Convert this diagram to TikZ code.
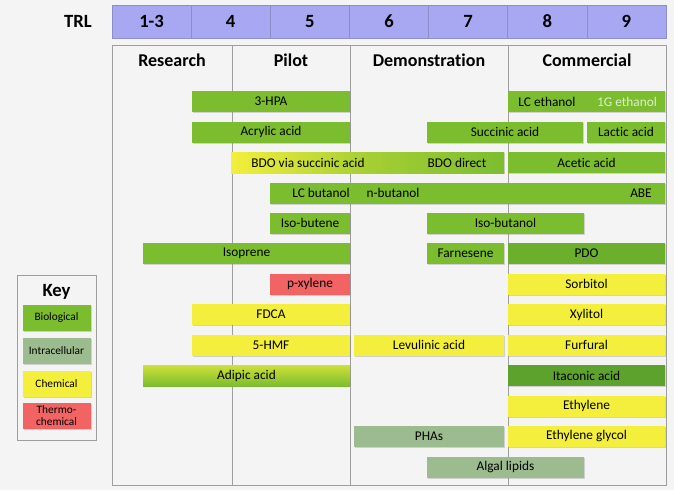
\documentclass[tikz,border=0pt]{standalone}
\usepackage{fontspec}
\setmainfont{Carlito}[Ligatures=NoCommon]
\usetikzlibrary{shadows}
\definecolor{bio}{HTML}{7CBD2F}
\definecolor{biodark}{HTML}{6BAF2C}
\definecolor{itac}{HTML}{5EA22E}
\definecolor{intra}{HTML}{9CBB8E}
\definecolor{chem}{HTML}{F3EF3C}
\definecolor{thermo}{HTML}{F26464}
\definecolor{trl}{HTML}{A7A7F2}
\definecolor{trledge}{HTML}{8D8DC9}
\definecolor{frame}{HTML}{9E9E9E}
\definecolor{bg}{HTML}{F4F4F4}

\begin{document}
\begin{tikzpicture}[x=0.75pt, y=-0.75pt,
    trlcell/.style={draw=trledge, fill=trl, minimum width=59.36pt, minimum height=24.75pt, inner sep=0pt, font=\fontsize{14}{16}\selectfont\bfseries},
    phase/.style={font=\fontsize{13.5}{16}\selectfont\bfseries},
    bar/.style 2 args={fill=#1, minimum width=#2*0.75pt, minimum height=15.75pt, inner sep=0pt, font=\fontsize{10}{12}\selectfont,
        drop shadow={opacity=0.3, shadow xshift=0.8pt, shadow yshift=-0.8pt}},
    lbl/.style={inner sep=0pt, font=\fontsize{10}{12}\selectfont},
    keyitem/.style={fill=#1, minimum width=51pt, minimum height=19.5pt, inner sep=0pt, align=center, font=\fontsize{8.5}{9}\selectfont,
        drop shadow={opacity=0.3, shadow xshift=0.8pt, shadow yshift=-0.8pt}},
    divider/.style={draw=frame, line width=0.75pt},
]
\useasboundingbox[fill=bg] (0,0) rectangle (674,490);

% --- TRL scale ---
\node[font=\fontsize{14}{16}\selectfont\bfseries] (trllabel) at (78,21) {TRL};
\foreach \t [count=\i] in {1-3,4,5,6,7,8,9}
    \node[trlcell] (trl\i) at ({112+79.14*(\i-0.5)}, 21.5) {\t};

% --- Chart frame and phases ---
\draw[divider] (112,45) rectangle (666,485);
\foreach \x in {232,350,508}
    \draw[divider] (\x,45) -- (\x,485);
\node[phase] (research) at (172,60) {Research};
\node[phase] (pilot) at (291,60) {Pilot};
\node[phase] (demo) at (429,60) {Demonstration};
\node[phase] (commercial) at (587,60) {Commercial};

% --- Row 1 ---
\node[bar={bio}{158}] (hpa) at (271,101.5) {3-HPA};
\node[bar={bio}{157}] (ethanol) at (586.5,101.5) {};
\node[lbl] (lcethanol) at (547,101.5) {LC ethanol};
\node[lbl, text=white!75!bio] (gethanol) at (627,101.5) {1G ethanol};

% --- Row 2 ---
\node[bar={bio}{158}] (acrylic) at (271,132) {Acrylic acid};
\node[bar={bio}{156}] (succinic) at (505,132) {Succinic acid};
\node[bar={bio}{78}] (lactic) at (626,132) {Lactic acid};

% --- Row 3 ---
\node[bar={bio}{273}, left color=chem, right color=bio, middle color=bio!65!chem] (bdo) at (367.5,162.5) {};
\node[lbl] (bdosucc) at (308,162.5) {BDO via succinic acid};
\node[lbl] (bdodirect) at (457,162.5) {BDO direct};
\node[bar={bio}{157}] (acetic) at (586.5,162.5) {Acetic acid};

% --- Row 4 ---
\node[bar={bio}{395}] (butanol) at (467.5,193) {};
\node[lbl] (lcbutanol) at (321,193) {LC butanol};
\node[lbl] (nbutanol) at (393,193) {n-butanol};
\node[lbl] (abe) at (641,193) {ABE};

% --- Row 5 ---
\node[bar={bio}{80}] (isobutene) at (310,223) {Iso-butene};
\node[bar={bio}{157}] (isobutanol) at (505.5,223) {Iso-butanol};

% --- Row 6 ---
\node[bar={bio}{207}] (isoprene) at (246.5,253.5) {Isoprene};
\node[bar={bio}{77}] (farnesene) at (465.5,253.5) {Farnesene};
\node[bar={biodark}{157}] (pdo) at (586.5,253.5) {PDO};

% --- Row 7 ---
\node[bar={thermo}{80}] (pxylene) at (310,284) {p-xylene};
\node[bar={chem}{157}] (sorbitol) at (586.5,284) {Sorbitol};

% --- Row 8 ---
\node[bar={chem}{158}] (fdca) at (271,314.5) {FDCA};
\node[bar={chem}{157}] (xylitol) at (586.5,314.5) {Xylitol};

% --- Row 9 ---
\node[bar={chem}{158}] (hmf) at (271,345) {5-HMF};
\node[bar={chem}{150}] (levulinic) at (429,345) {Levulinic acid};
\node[bar={chem}{157}] (furfural) at (586.5,345) {Furfural};

% --- Row 10 ---
\node[bar={bio}{207}, top color=chem!70!bio, bottom color=bio] (adipic) at (246.5,375.5) {Adipic acid};
\node[bar={itac}{157}] (itaconic) at (586.5,375.5) {Itaconic acid};

% --- Rows 11-13 ---
\node[bar={chem}{157}] (ethylene) at (586.5,406) {Ethylene};
\node[bar={intra}{150}] (phas) at (429,436.5) {PHAs};
\node[bar={chem}{157}] (glycol) at (586.5,436.5) {Ethylene glycol};
\node[bar={intra}{157}] (algal) at (505.5,467) {Algal lipids};

% --- Key ---
\draw[divider] (17,275) rectangle (96,440);
\node[font=\fontsize{14}{16}\selectfont\bfseries] (keytitle) at (56.5,292) {Key};
\node[keyitem=bio] (kbio) at (56.5,318) {Biological};
\node[keyitem=intra] (kintra) at (56.5,351) {Intracellular};
\node[keyitem=chem] (kchem) at (56.5,384) {Chemical};
\node[keyitem=thermo] (kthermo) at (56.5,416) {Thermo-\\chemical};

\end{tikzpicture}
\end{document}
